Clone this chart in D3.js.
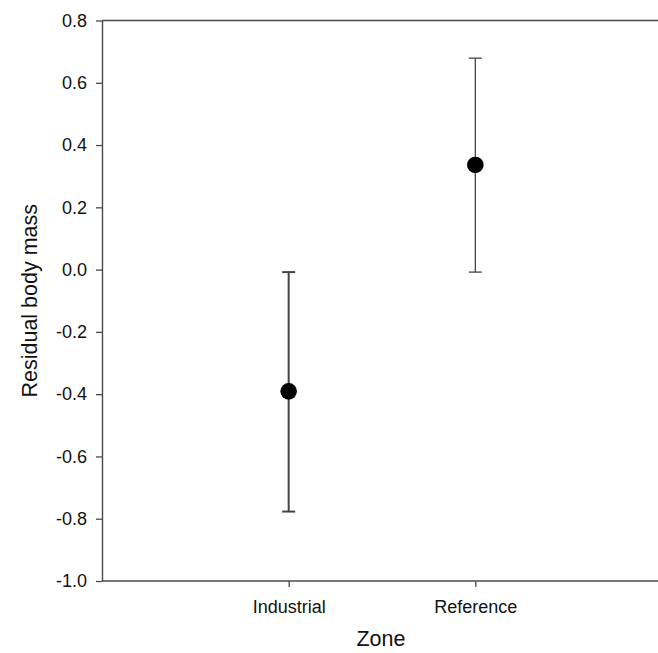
<!DOCTYPE html>
<html>
<head>
<meta charset="utf-8">
<script src="https://cdn.jsdelivr.net/npm/d3@7"></script>
<style>
  body { margin: 0; background: #fff; }
  svg { display: block; font-family: "Liberation Sans", Arial, sans-serif; }
</style>
</head>
<body>
<svg width="658" height="653"></svg>
<script>
// chart values
var categories = ['Industrial', 'Reference'];
var means = [-0.391, 0.336];
var upper = [-0.008, 0.679];
var lower = [-0.777, -0.008];
var yTicks = [-1.0, -0.8, -0.6, -0.4, -0.2, 0.0, 0.2, 0.4, 0.6, 0.8];

var svg = d3.select('svg');

// plot area edges (note: "top" is reserved on window, so use plot* names)
var plotLeft = 102, plotRight = 662, plotTop = 20.5, plotBottom = 581;

var y = d3.scaleLinear()
    .domain([-1.0, 0.8])
    .range([plotBottom, plotTop]);

var x = d3.scalePoint()
    .domain(categories)
    .range([plotLeft, plotRight])
    .padding(1);

var axisColor = '#4a4a4a';

// top frame line
svg.append('line')
    .attr('x1', plotLeft).attr('x2', 658)
    .attr('y1', y(0.8)).attr('y2', y(0.8))
    .attr('stroke', axisColor)
    .attr('stroke-width', 1.4);

// left axis
var yAxisG = svg.append('g')
    .attr('transform', 'translate(' + plotLeft + ',0)')
    .call(d3.axisLeft(y)
        .tickValues(yTicks)
        .tickFormat(function(d) { return d.toFixed(1); })
        .tickSize(6)
        .tickSizeOuter(0)
        .tickPadding(9));

// bottom axis
var xAxisG = svg.append('g')
    .attr('transform', 'translate(0,' + plotBottom + ')')
    .call(d3.axisBottom(x)
        .tickSize(6)
        .tickSizeOuter(0)
        .tickPadding(13));

// extend bottom domain line to the right edge of the picture
xAxisG.select('.domain').attr('d', 'M' + plotLeft + ',0H658');

[yAxisG, xAxisG].forEach(function(g) {
    g.select('.domain').attr('stroke', axisColor).attr('stroke-width', 1.4);
    g.selectAll('.tick line').attr('stroke', axisColor).attr('stroke-width', 1.3);
    g.selectAll('.tick text')
        .attr('fill', '#111')
        .style('font-size', '18px')
        .style('font-family', '"Liberation Sans", Arial, sans-serif');
});

// axis titles
svg.append('text')
    .attr('transform', 'translate(37,' + ((plotTop + plotBottom) / 2) + ') rotate(-90)')
    .attr('text-anchor', 'middle')
    .attr('fill', '#111')
    .style('font-size', '21.5px')
    .text('Residual body mass');

svg.append('text')
    .attr('x', 381)
    .attr('y', 646)
    .attr('text-anchor', 'middle')
    .attr('fill', '#111')
    .style('font-size', '21.5px')
    .text('Zone');

// error bars and points
var points = categories.map(function(c, i) {
    return {zone: c, mean: means[i], hi: upper[i], lo: lower[i], i: i};
});

var capHalf = 6.5;

var bars = svg.append('g').selectAll('g')
    .data(points)
    .enter()
    .append('g')
    .attr('stroke', '#444')
    .attr('stroke-width', function(d) { return d.i === 0 ? 2 : 1.3; });

bars.append('line')
    .attr('x1', function(d) { return x(d.zone); })
    .attr('x2', function(d) { return x(d.zone); })
    .attr('y1', function(d) { return y(d.hi); })
    .attr('y2', function(d) { return y(d.lo); });

bars.append('line')
    .attr('x1', function(d) { return x(d.zone) - capHalf; })
    .attr('x2', function(d) { return x(d.zone) + capHalf; })
    .attr('y1', function(d) { return y(d.hi); })
    .attr('y2', function(d) { return y(d.hi); });

bars.append('line')
    .attr('x1', function(d) { return x(d.zone) - capHalf; })
    .attr('x2', function(d) { return x(d.zone) + capHalf; })
    .attr('y1', function(d) { return y(d.lo); })
    .attr('y2', function(d) { return y(d.lo); });

svg.append('g').selectAll('circle')
    .data(points)
    .enter()
    .append('circle')
    .attr('cx', function(d) { return x(d.zone); })
    .attr('cy', function(d) { return y(d.mean); })
    .attr('r', 8.3)
    .attr('fill', '#000');
</script>
</body>
</html>
